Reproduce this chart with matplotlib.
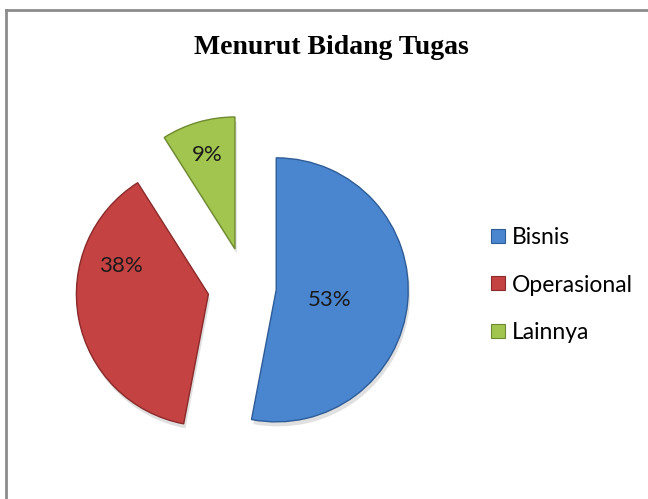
import matplotlib.pyplot as plt
from matplotlib.lines import Line2D

# data
labels = ['Bisnis', 'Operasional', 'Lainnya']
values = [53, 38, 9]
colors = ['#4A86D0', '#C44242', '#A2C54F']
edges = ['#2E5C96', '#8A2A2A', '#6E8A30']
explode = [0.23, 0.29, 0.30]

W, H = 648, 499
scale = 132.0        # pixels per pie radius
cx, cy = 246, 287    # pie centre in pixels (from top-left)

fig = plt.figure(figsize=(W / 100, H / 100), dpi=100)
ax = fig.add_axes([0, 0, 1, 1])

wedges, texts = ax.pie(values, colors=colors, explode=explode,
                       startangle=90, counterclock=False, radius=1.0,
                       wedgeprops=dict(linewidth=1.0),
                       shadow={'ox': 0.01, 'oy': -0.025, 'shade': 0.0,
                               'alpha': 0.18, 'facecolor': '#555555',
                               'edgecolor': 'none'})
for w, ec in zip(wedges, edges):
    w.set_edgecolor(ec)

# percentage labels (positions in pixels)
lab_pos = [(330, 300), (121, 266), (207, 155)]
for v, (px, py) in zip(values, lab_pos):
    ax.text((px - cx) / scale, (cy - py) / scale, '%d%%' % v,
            ha='center', va='center', fontsize=16, family='Lato', color='#1a1a1a')

ax.set_xlim(-cx / scale, (W - cx) / scale)
ax.set_ylim(-(H - cy) / scale, cy / scale)
ax.set_aspect('auto')
ax.axis('off')

fig.text(331 / W, 1 - 48 / H, 'Menurut Bidang Tugas', ha='center', va='center',
         fontsize=20, fontweight='bold', family='Liberation Serif')

# legend
handles = [Line2D([], [], marker='s', linestyle='none', markersize=10,
                  markerfacecolor=c, markeredgecolor=e, markeredgewidth=0.8)
           for c, e in zip(colors, edges)]
fig.legend(handles, labels, loc='center left', bbox_to_anchor=(480 / W, 1 - 285 / H),
           frameon=False, prop={'family': 'Lato', 'size': 16.5},
           handlelength=0.6, handletextpad=0.3, labelspacing=1.15, borderpad=0)

# border lines of the chart area (top and left only visible)
fig.add_artist(Line2D([6 / W, 1], [1 - 10 / H, 1 - 10 / H], color='#8c8c8c', lw=2,
                      transform=fig.transFigure))
fig.add_artist(Line2D([6 / W, 6 / W], [0, 1 - 10 / H], color='#8c8c8c', lw=2,
                      transform=fig.transFigure))

fig.savefig('out.png', dpi=100)
